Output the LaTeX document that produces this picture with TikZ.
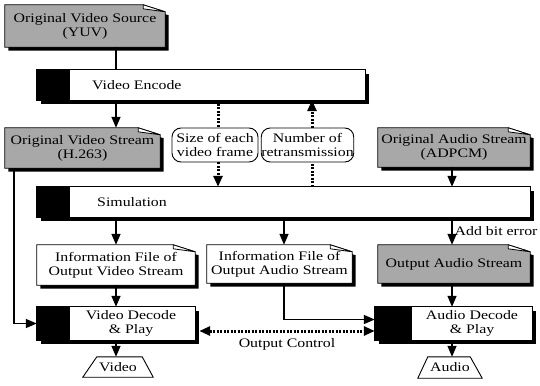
\documentclass[tikz,border=0pt]{standalone}
\usepackage{fontspec}
\setmainfont{Liberation Serif}[FakeStretch=1.22]
\usetikzlibrary{arrows.meta,backgrounds,calc}

\tikzset{
  box/.style={inner sep=0pt, align=center, font=\fontsize{13}{14}\selectfont},
  roundbox/.style={box, draw, line width=0.9pt, rounded corners=9pt},
  lbl/.style={inner sep=0pt, font=\fontsize{13}{14}\selectfont},
  conn/.style={line width=1.4pt},
  arr/.style={conn, -{Triangle[length=11pt,width=9pt]}},
  dotline/.style={line width=3pt, dash pattern=on 2pt off 1.5pt},
  dotarr/.style={dotline, -{Triangle[length=11pt,width=9pt]}},
  dotboth/.style={dotline, {Triangle[length=11pt,width=9pt]}-{Triangle[length=11pt,width=9pt]}},
}
\colorlet{shade}{black!34}

\newcommand\docshape[2]{%
  \fill[black] ([shift={(3.5pt,-3.5pt)}]#1.north west) -- ([shift={(-18.5pt,-3.5pt)}]#1.north east) -- ([shift={(3.5pt,-10.5pt)}]#1.north east) -- ([shift={(3.5pt,-3.5pt)}]#1.south east) -- ([shift={(3.5pt,-3.5pt)}]#1.south west) -- cycle;
  \filldraw[fill=#2, line width=0.8pt] (#1.north west) -- ([xshift=-22pt]#1.north east) -- ([yshift=-7pt]#1.north east) -- (#1.south east) -- (#1.south west) -- cycle;
  \filldraw[fill=white, line width=0.8pt, line join=bevel] ([xshift=-22pt]#1.north east) -- ([shift={(-22pt,-4pt)}]#1.north east) -- ([yshift=-7pt]#1.north east) -- cycle;
}
\newcommand\procshape[2]{%
  \fill[black] ([shift={(4pt,-4pt)}]#1.north west) rectangle ([shift={(4pt,-4pt)}]#1.south east);
  \filldraw[fill=white, line width=0.8pt] (#1.north west) rectangle (#1.south east);
  \fill[black] (#1.north west) rectangle ([xshift=#2]#1.south west);
}
\newcommand\trapshape[3]{%
  \filldraw[fill=white, line width=0.9pt] (#1.south west) -- (#1.south east) -- ([xshift=-#3]#1.north east) -- ([xshift=#2]#1.north west) -- cycle;
}

\begin{document}
\begin{tikzpicture}[x=1pt,y=-1pt]
\useasboundingbox (0,0) rectangle (540,385);

% column coordinates
\coordinate (c0) at (14,0);
\coordinate (c1) at (116,0);
\coordinate (c2) at (218,0);
\coordinate (c3) at (312,0);
\coordinate (c5) at (284,0);
\coordinate (c4) at (452,0);

% nodes
\node[box, minimum width=160pt, minimum height=42pt] (src) at (85,26) {Original Video Source\\(YUV)};
\node[box, minimum width=328pt, minimum height=30pt] (enc) at (201,85) {};
\node[lbl, anchor=west] (enct) at (92,85) {Video Encode};
\node[box, minimum width=155pt, minimum height=40pt] (vstr) at (82.5,148) {Original Video Stream\\(H.263)};
\node[roundbox, minimum width=86pt, minimum height=34pt] (size) at (215,145) {Size of each\\video frame};
\node[roundbox, minimum width=85pt, minimum height=34pt] (num) at (307.5,145) {Number of\\retransmission};
\node[box, minimum width=152pt, minimum height=39pt] (astr) at (454,147.5) {Original Audio Stream\\(ADPCM)};
\node[box, minimum width=493pt, minimum height=30pt] (sim) at (283.5,202) {};
\node[lbl, anchor=west] (simt) at (97,202) {Simulation};
\node[box, minimum width=158pt, minimum height=40pt] (infov) at (116,265) {Information File of\\Output Video Stream};
\node[box, minimum width=145pt, minimum height=38pt] (infoa) at (279.5,264) {Information File of\\Output Audio Stream};
\node[box, minimum width=152pt, minimum height=38pt] (outa) at (454,264) {Output Audio Stream};
\node[box, minimum width=158pt, minimum height=33pt] (vdec) at (116,323.5) {};
\node[box] (vdect) at (131,323.5) {Video Decode\\\& Play};
\node[box, minimum width=157pt, minimum height=33pt] (adec) at (453.5,323.5) {};
\node[box] (adect) at (472,323.5) {Audio Decode\\\& Play};
\node[box, minimum width=70pt, minimum height=20pt] (vtrap) at (118,367) {Video};
\node[box, minimum width=64pt, minimum height=21pt] (atrap) at (450,367.5) {Audio};

% shapes behind the texts
\begin{scope}[on background layer]
  \docshape{src}{shade}
  \procshape{enc}{33pt}
  \docshape{vstr}{shade}
  \docshape{astr}{shade}
  \procshape{sim}{33pt}
  \docshape{infov}{white}
  \docshape{infoa}{white}
  \docshape{outa}{shade}
  \procshape{vdec}{33pt}
  \procshape{adec}{37pt}
  \trapshape{vtrap}{14pt}{11pt}
  \trapshape{atrap}{10pt}{12pt}
\end{scope}

% connectors
\draw[conn] (src.south -| c1) -- (enc.north -| c1);
\draw[arr] (enc.south -| c1) -- (vstr.north -| c1);
\draw[dotline] (enc.south -| c2) -- (size.north -| c2);
\draw[dotarr] (size.south -| c2) -- (sim.north -| c2);
\draw[dotline] (sim.north -| c3) -- (num.south -| c3);
\draw[dotarr] (num.north -| c3) -- (enc.south -| c3);
\draw[arr] (astr.south -| c4) -- (sim.north -| c4);
\draw[arr] (sim.south -| c1) -- (infov.north -| c1);
\draw[arr] (sim.south -| c5) -- (infoa.north -| c5);
\draw[arr] (sim.south -| c4) -- node[lbl, right=2pt] (biterr) {Add bit error} (outa.north -| c4);
\draw[arr] (vstr.south -| c0) |- (vdec.west);
\draw[arr] (infov.south -| c1) -- (vdec.north -| c1);
\draw[arr] (infoa.south -| c5) |- ([yshift=4pt]adec.west);
\draw[arr] (outa.south -| c4) -- (adec.north -| c4);
\draw[dotboth] ([shift={(4pt,-7.5pt)}]vdec.east) -- node[lbl, below=6pt] (octl) {Output Control} ([yshift=-7.5pt]adec.west);
\draw[arr] (vdec.south -| c1) -- (vtrap.north -| c1);
\draw[arr] (adec.south -| c4) -- (atrap.north -| c4);
\end{tikzpicture}
\end{document}
